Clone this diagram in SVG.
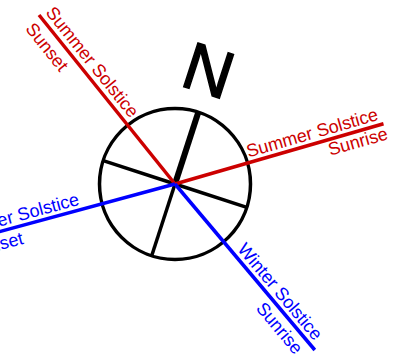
<svg xmlns="http://www.w3.org/2000/svg" width="403" height="358" viewBox="0 0 403 358">
<style>
.lbl{font-family:"Liberation Sans",Arial,sans-serif;font-size:18px}
.red{fill:#cc0000}
.blue{fill:#0000ff}
.end{text-anchor:end}
.rl{stroke:#cc0000;stroke-width:3.5;fill:none}
.bl{stroke:#0000ff;stroke-width:3.5;fill:none}
.k{stroke:#000;stroke-width:3.5;fill:none}
</style>
<rect width="403" height="358" fill="#fff"/>
<g id="compass">
<circle class="k" cx="175" cy="184" r="75.5"/>
<line class="k" x1="175" y1="184" x2="151.7" y2="255.8"/>
<line class="k" x1="175" y1="184" x2="103.2" y2="160.7"/>
<line class="k" x1="175" y1="184" x2="246.8" y2="207.3"/>
<line stroke="#000" stroke-width="6" x1="175" y1="184" x2="198.3" y2="112.2"/>
</g>
<g id="north">
<text x="0" y="0" text-anchor="middle" transform="translate(201.5,92.5) rotate(18)" style="font-family:'Liberation Sans',Arial,sans-serif;font-size:67px" fill="#000" stroke="#000" stroke-width="1.5">N</text>
</g>
<g id="connectors">
<line class="rl" x1="175" y1="184" x2="39" y2="15"/>
<line class="rl" x1="175" y1="184" x2="383.5" y2="123.8"/>
<line class="bl" x1="175" y1="184" x2="314.8" y2="350"/>
<line class="bl" x1="175" y1="184" x2="-34.4" y2="240.9"/>
</g>
<g id="summer-sunset" transform="translate(39,15) rotate(51.2)">
<text class="lbl red" x="2" y="-6">Summer Solstice</text>
<text class="lbl red" x="2" y="20">Sunset</text>
</g>
<g id="summer-sunrise" transform="translate(383.5,123.8) rotate(-16.1)">
<text class="lbl red end" x="-3" y="-5">Summer Solstice</text>
<text class="lbl red end" x="1" y="16">Sunrise</text>
</g>
<g id="winter-sunrise" transform="translate(314.8,350) rotate(49.9)">
<text class="lbl blue end" x="-7" y="-5">Winter Solstice</text>
<text class="lbl blue end" x="-9" y="19">Sunrise</text>
</g>
<g id="winter-sunset" transform="translate(-34.4,240.9) rotate(-15.2)">
<text class="lbl blue" x="0" y="-5">Winter Solstice</text>
<text class="lbl blue" x="0" y="18">Sunset</text>
</g>
</svg>
